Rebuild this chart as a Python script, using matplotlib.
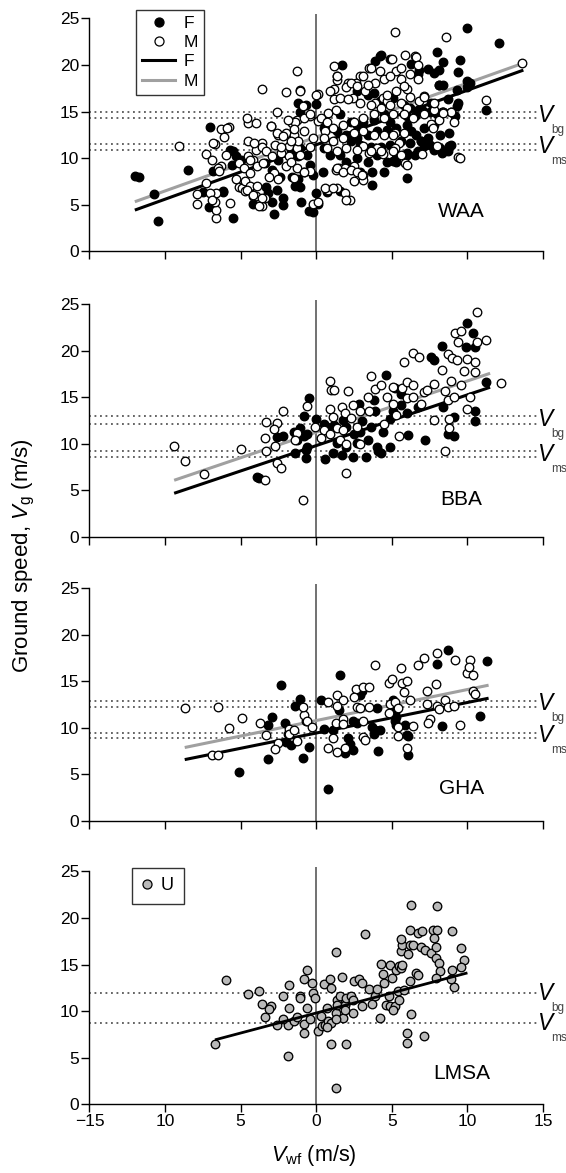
import numpy as np
import matplotlib
matplotlib.use("Agg")
import matplotlib.pyplot as plt
from matplotlib.lines import Line2D

plt.rcParams['font.family'] = ['Liberation Sans', 'DejaVu Sans']
plt.rcParams['mathtext.fontset'] = 'custom'
plt.rcParams['mathtext.rm'] = 'Liberation Sans'
plt.rcParams['mathtext.it'] = 'Liberation Sans:italic'

# ---- data: (wind component, ground speed) in m/s ----
waa_f = np.array([
    (-12.0, 8.1), (-11.7, 8.0), (-10.7, 6.1), (-10.5, 3.2), (-8.5, 8.7), (-7.0, 13.3),
    (-6.8, 8.6), (-6.2, 6.3), (-7.1, 4.7), (-7.5, 6.3), (-5.5, 3.5), (-5.6, 9.2),
    (-4.2, 5.1), (-2.8, 4.0), (-3.3, 6.9), (-2.6, 6.6), (-2.2, 5.7), (-2.2, 5.0),
    (-1.6, 8.0), (-1.1, 6.9), (-1.2, 15.9), (-1.1, 14.9), (-0.5, 4.3), (0.0, 15.8),
    (0.0, 6.2), (0.1, 5.1), (0.45, 8.5), (0.7, 6.3), (1.7, 20.0), (1.4, 18.8),
    (3.7, 8.5), (4.5, 8.5), (4.3, 21.1), (3.9, 20.4), (5.1, 9.7), (6.0, 7.8),
    (6.3, 20.1), (6.8, 19.5), (7.4, 19.6), (8.0, 21.4), (8.1, 19.5), (8.4, 20.3),
    (8.1, 17.8), (8.4, 17.8), (9.5, 20.5), (9.4, 19.2), (10.0, 24.0), (10.0, 18.3),
    (10.0, 17.6), (12.1, 22.4), (11.2, 15.2), (9.4, 15.9), (9.2, 14.5), (8.7, 16.3),
    (8.3, 15.0), (8.8, 12.7), (8.2, 12.5), (8.8, 11.3), (8.3, 10.5), (7.4, 12.2),
    (6.9, 11.8), (7.1, 11.3), (6.5, 10.3), (6.0, 10.5), (6.3, 12.9), (6.0, 14.5),
    (7.6, 15.9), (7.0, 15.2), (6.5, 14.5), (4.2, 21.0), (4.9, 20.6), (6.7, 19.0),
    (7.8, 19.1), (8.1, 17.9), (9.3, 17.3), (10.2, 18.1), (-0.7, 15.7), (2.7, 17.2),
    (3.4, 16.8), (3.8, 17.0), (4.2, 16.1), (5.1, 16.5), (5.8, 15.7), (6.2, 15.4),
    (6.7, 15.2), (7.1, 15.0), (7.5, 15.0), (8.0, 14.7), (8.4, 15.0), (8.9, 15.0),
    (9.3, 15.6), (1.6, 14.7), (2.3, 13.9), (2.7, 13.6), (3.1, 13.9), (3.8, 14.1),
    (4.5, 14.7), (4.9, 13.9), (0.5, 13.2), (1.4, 12.9), (2.0, 12.5), (2.7, 12.1),
    (3.4, 12.5), (4.0, 12.9), (4.7, 13.0), (5.3, 13.2), (6.0, 13.6), (2.3, 11.8),
    (2.9, 11.4), (3.6, 11.2), (4.3, 11.2), (4.9, 11.4), (5.6, 11.8), (6.2, 11.6),
    (6.9, 11.8), (7.5, 11.4), (8.2, 11.1), (8.9, 11.4), (0.5, 11.1), (0.9, 10.3),
    (1.6, 10.3), (2.0, 9.6), (2.7, 10.0), (3.4, 9.6), (4.0, 10.3), (4.7, 9.6),
    (5.3, 10.0), (6.0, 10.3), (6.7, 10.7), (7.1, 11.6), (7.8, 10.9), (8.7, 10.7),
    (-1.1, 11.1), (-0.6, 10.3), (-0.4, 9.3), (-0.8, 8.5), (-0.2, 8.2), (-1.3, 7.1),
    (-1.0, 5.3), (-0.2, 4.2), (1.6, 6.4), (2.9, 8.5), (6.6, 12.5), (7.1, 13.2),
    (7.8, 13.6), (3.7, 7.1), (5.3, 9.6), (-5.5, 10.7), (-5.3, 10.2), (-5.0, 9.8),
    (-3.4, 9.5), (-2.9, 8.7), (-2.4, 8.0), (-5.7, 10.9), (-2.5, 9.8), (-1.7, 10.9),
    (-1.2, 10.2), (-1.2, 7.7), (-1.4, 7.0), (-6.2, 6.4), (-3.2, 6.2), (-2.9, 5.3),
])

waa_m = np.array([
    (-9.1, 11.3), (-7.9, 5.1), (-7.9, 6.1), (-7.3, 7.3), (-7.3, 10.4), (-6.7, 11.5),
    (-6.3, 13.1), (-5.8, 13.3), (-6.1, 12.3), (-6.6, 3.5), (-6.6, 4.4), (-6.7, 5.3),
    (-6.6, 6.2), (-6.3, 9.1), (-6.0, 10.3), (-5.7, 5.2), (-5.1, 6.9), (-4.9, 6.8),
    (-4.7, 6.4), (-4.4, 6.9), (-4.2, 5.9), (-4.0, 5.9), (-3.6, 4.8), (-3.4, 5.7),
    (-4.5, 10.2), (-4.2, 9.8), (-5.1, 9.5), (-4.8, 8.9), (-4.4, 8.4), (-4.0, 10.9),
    (-3.6, 11.6), (-4.5, 13.8), (-4.0, 13.8), (-3.6, 17.4), (-2.0, 17.1), (-1.3, 19.4),
    (-1.1, 17.3), (-2.6, 14.9), (-3.0, 13.4), (-2.5, 12.5), (-2.0, 12.7), (-1.8, 11.3),
    (-1.6, 13.8), (-1.3, 14.1), (-0.9, 15.6), (-2.8, 8.4), (-3.1, 8.0), (-2.5, 7.7),
    (-2.0, 9.1), (-1.8, 10.2), (-2.3, 10.5), (-0.4, 8.6), (-0.2, 5.1), (0.1, 5.3),
    (0.1, 16.9), (-0.4, 14.5), (0.1, 14.0), (0.6, 12.9), (0.8, 14.8), (1.3, 15.2),
    (1.2, 16.3), (1.2, 17.4), (1.4, 18.4), (1.2, 19.9), (0.8, 6.6), (1.4, 6.8),
    (1.3, 8.7), (1.5, 8.9), (1.9, 8.9), (1.9, 6.2), (2.2, 5.5), (2.5, 9.1),
    (3.1, 8.2), (3.1, 7.6), (5.2, 23.5), (8.6, 23.0), (5.0, 20.6), (5.3, 19.4),
    (5.6, 18.5), (5.9, 21.1), (6.5, 21.0), (6.7, 18.5), (6.0, 17.4), (4.2, 19.4),
    (3.5, 19.7), (2.9, 18.8), (2.6, 18.1), (2.1, 18.1), (2.0, 17.6), (2.4, 16.5),
    (3.2, 17.2), (3.9, 18.1), (4.5, 18.5), (4.4, 16.5), (3.9, 15.9), (4.7, 16.1),
    (7.1, 16.7), (6.8, 16.1), (7.8, 15.2), (8.1, 14.1), (8.4, 14.9), (8.9, 15.0),
    (7.6, 13.7), (8.0, 11.3), (7.0, 10.4), (9.4, 10.1), (11.2, 16.2), (13.6, 20.2),
    (5.2, 12.7), (5.5, 11.6), (5.2, 11.1), (4.4, 10.4), (4.0, 11.1), (3.5, 10.5),
    (3.1, 11.3), (2.7, 10.9), (5.9, 9.5), (1.4, 18.8), (3.1, 18.8), (3.6, 19.7),
    (4.9, 18.8), (6.6, 20.9), (6.7, 20.0), (6.2, 19.0), (5.6, 19.7), (2.3, 18.1),
    (2.7, 17.7), (3.4, 17.9), (4.7, 16.8), (5.3, 17.2), (5.8, 17.7), (6.2, 16.6),
    (7.1, 16.6), (7.8, 15.9), (-1.1, 17.2), (0.0, 16.8), (0.9, 17.2), (1.6, 16.5),
    (2.1, 16.3), (2.9, 15.9), (3.6, 15.7), (4.3, 15.4), (4.9, 15.7), (5.6, 15.9),
    (6.0, 15.4), (-1.4, 13.9), (-0.8, 14.3), (-0.4, 14.7), (0.3, 14.3), (0.7, 13.9),
    (1.1, 13.2), (1.8, 13.6), (2.5, 13.9), (3.1, 14.3), (3.8, 14.7), (4.5, 14.3),
    (5.1, 14.7), (5.8, 14.7), (6.4, 14.3), (7.1, 14.7), (-1.5, 12.5), (-0.8, 12.9),
    (-0.2, 12.1), (0.5, 12.1), (1.1, 11.8), (1.8, 12.1), (2.5, 12.7), (3.1, 12.9),
    (3.8, 12.5), (4.5, 12.5), (5.1, 12.5), (5.8, 12.7), (-1.3, 11.1), (-0.4, 11.2),
    (0.7, 11.1), (1.4, 10.7), (2.0, 11.1), (3.6, 10.7), (4.3, 10.7), (5.1, 10.7),
    (5.6, 10.3), (7.7, 13.2), (8.4, 14.8), (9.1, 13.9), (1.4, 8.9), (1.8, 8.5),
    (2.3, 8.7), (2.7, 8.5), (2.5, 7.5), (3.0, 8.2), (6.0, 9.3), (0.6, 6.8),
    (1.1, 6.8), (2.0, 5.5), (-1.7, 9.6), (-1.3, 8.9), (-0.8, 8.5), (-1.5, 7.8),
    (-1.1, 10.3), (-1.2, 11.8), (-5.9, 13.2), (-6.8, 11.6), (-6.9, 9.8), (-6.5, 8.9),
    (-6.4, 8.6), (-7.0, 6.2), (-6.9, 5.5), (-4.6, 14.3), (-4.5, 11.8), (-4.1, 11.6),
    (-3.6, 11.2), (-3.3, 10.7), (-2.9, 10.2), (-2.7, 11.4), (-2.3, 11.2), (-1.7, 11.8),
    (-4.4, 9.8), (-3.9, 9.1), (-3.5, 9.5), (-5.3, 7.7), (-4.7, 7.5), (-4.4, 7.0),
    (-3.9, 7.0), (-4.6, 6.6), (-3.6, 5.7), (-3.8, 4.8), (-3.0, 13.4), (-2.6, 12.7),
    (-1.9, 14.1), (-1.5, 13.1), (-2.2, 12.4), (-4.2, 6.0), (9.5, 10.0),
])

bba_f = np.array([
    (-3.9, 6.5), (-3.8, 6.3), (-2.6, 10.8), (-2.2, 10.9), (-1.5, 11.3), (-1.3, 10.4),
    (-0.8, 10.9), (-0.6, 11.1), (-1.1, 11.7), (-1.4, 9.0), (-0.7, 9.3), (-0.7, 8.5),
    (-0.6, 9.7), (-0.8, 13.0), (-0.5, 14.9), (0.0, 12.7), (0.5, 12.2), (0.7, 11.8),
    (0.6, 8.4), (1.1, 9.0), (1.7, 8.8), (2.4, 8.6), (3.3, 8.6), (4.1, 9.2),
    (4.3, 9.0), (4.9, 9.7), (1.4, 10.1), (2.0, 9.7), (2.7, 10.1), (3.4, 10.4),
    (4.0, 9.7), (2.5, 11.1), (2.9, 11.3), (3.6, 11.8), (2.0, 11.8), (1.8, 12.6),
    (2.8, 14.3), (3.9, 13.6), (4.6, 17.4), (5.2, 16.0), (5.6, 14.2), (6.0, 13.3),
    (5.1, 13.6), (4.9, 12.7), (6.1, 11.0), (7.2, 10.4), (6.7, 14.0), (5.6, 15.4),
    (3.8, 14.7), (7.6, 19.3), (7.8, 19.0), (8.3, 20.5), (8.4, 14.0), (9.1, 10.9),
    (9.1, 12.9), (10.0, 23.0), (10.4, 21.9), (9.9, 20.4), (10.5, 20.4), (10.5, 13.6),
    (10.5, 12.5), (11.2, 16.7), (8.7, 11.1), (1.2, 12.0), (3.0, 12.5), (4.4, 11.3),
])

bba_m = np.array([
    (-9.4, 9.8), (-8.7, 8.2), (-7.4, 6.8), (-5.0, 9.5), (-3.4, 10.6), (-2.7, 9.8),
    (-3.3, 9.2), (-3.3, 12.4), (-2.6, 12.3), (-2.8, 11.6), (-2.2, 13.6), (-2.6, 8.0),
    (-2.3, 7.4), (-3.4, 6.1), (-1.3, 11.2), (-1.4, 10.4), (-0.6, 14.1), (-0.9, 4.0),
    (-0.1, 11.8), (0.9, 16.8), (1.0, 15.8), (1.2, 15.8), (2.1, 15.7), (0.9, 13.8),
    (1.1, 12.9), (1.7, 14.0), (1.9, 13.3), (2.4, 14.2), (2.9, 13.6), (3.5, 13.6),
    (0.5, 11.5), (0.9, 11.1), (1.4, 11.7), (1.8, 11.5), (1.6, 10.4), (2.0, 10.0),
    (2.7, 11.8), (2.9, 10.0), (2.0, 6.9), (3.4, 15.1), (3.9, 15.9), (4.3, 16.3),
    (3.6, 17.3), (4.7, 15.1), (5.1, 16.1), (5.7, 16.0), (6.0, 16.7), (6.4, 16.3),
    (6.0, 14.9), (5.1, 14.3), (5.3, 13.1), (6.4, 15.1), (6.9, 14.3), (7.1, 15.6),
    (7.3, 15.8), (7.8, 16.5), (5.8, 18.8), (6.4, 19.8), (6.8, 19.4), (5.5, 10.9),
    (7.8, 12.6), (8.3, 18.0), (8.5, 15.7), (8.7, 14.7), (8.9, 16.8), (9.1, 15.1),
    (8.8, 11.7), (8.5, 9.2), (8.7, 19.7), (9.0, 19.2), (9.3, 19.0), (9.8, 17.9),
    (10.0, 19.1), (10.5, 17.7), (9.2, 21.9), (9.6, 22.1), (9.4, 21.0), (10.6, 21.0),
    (11.2, 21.2), (10.6, 24.2), (9.6, 16.3), (10.2, 15.1), (10.0, 13.8), (8.8, 12.7),
    (12.2, 16.6), (10.5, 18.8), (4.5, 12.2), (0.3, 10.6), (2.3, 12.8),
])

gha_f = np.array([
    (-5.1, 5.3), (-3.2, 6.7), (-2.3, 14.6), (-2.9, 11.2), (-3.2, 10.3), (-2.1, 10.5),
    (-1.9, 9.4), (-1.7, 8.2), (-2.0, 8.5), (-1.1, 13.1), (-1.4, 12.4), (-0.9, 6.8),
    (-0.5, 8.0), (-0.7, 10.8), (0.3, 13.0), (0.5, 9.9), (1.1, 9.8), (1.6, 15.7),
    (0.8, 3.4), (1.5, 11.9), (2.4, 10.7), (2.7, 10.5), (2.1, 8.9), (2.2, 8.3),
    (2.4, 7.6), (1.9, 7.3), (2.9, 13.5), (3.0, 14.0), (3.7, 10.1), (3.9, 9.8),
    (4.2, 9.8), (3.8, 9.4), (4.0, 12.1), (4.1, 7.5), (5.1, 13.0), (5.3, 11.9),
    (5.2, 10.8), (5.9, 10.3), (6.0, 9.2), (6.1, 7.1), (8.0, 16.9), (8.7, 18.4),
    (8.3, 10.2), (10.8, 11.3), (11.3, 17.2), (5.3, 11.2), (6.1, 9.1), (5.3, 10.3),
])

gha_m = np.array([
    (-8.7, 12.1), (-6.5, 12.3), (-5.8, 10.0), (-4.9, 11.1), (-6.9, 7.1), (-6.5, 7.1),
    (-3.7, 10.5), (-3.3, 9.2), (-2.5, 8.4), (-2.7, 7.7), (-1.8, 9.9), (-1.8, 9.4),
    (-1.5, 9.8), (-1.3, 8.6), (-0.8, 11.4), (-0.6, 10.8), (-0.9, 12.3), (-0.3, 10.1),
    (0.8, 12.8), (1.4, 13.5), (1.8, 13.0), (1.4, 12.4), (0.8, 7.8), (1.1, 8.9),
    (1.4, 7.4), (1.9, 7.8), (1.3, 10.5), (1.8, 11.0), (1.8, 10.4), (2.6, 14.2),
    (3.1, 14.4), (3.5, 14.4), (2.5, 13.3), (2.7, 12.3), (2.9, 12.1), (3.1, 10.7),
    (3.1, 9.0), (3.2, 8.7), (3.5, 12.3), (3.9, 16.8), (4.8, 14.8), (5.0, 15.3),
    (5.6, 16.4), (5.7, 14.8), (6.0, 15.1), (5.8, 13.9), (4.9, 12.6), (5.2, 12.8),
    (5.4, 12.1), (4.8, 11.6), (5.4, 10.1), (5.4, 9.1), (6.0, 7.8), (6.4, 10.2),
    (6.2, 13.0), (6.7, 16.8), (7.1, 17.5), (8.0, 18.1), (7.3, 14.0), (7.9, 14.7),
    (7.5, 11.0), (7.4, 10.5), (7.3, 12.6), (8.0, 12.4), (8.1, 12.0), (8.5, 13.0),
    (8.7, 12.3), (9.1, 12.4), (9.5, 10.3), (9.2, 17.3), (10.0, 15.9), (10.2, 17.3),
    (10.4, 15.7), (10.1, 16.6), (10.4, 14.0), (10.5, 13.6),
])

lmsa_u = np.array([
    (-6.7, 6.4), (-6.0, 13.3), (-4.5, 11.8), (-3.8, 12.2), (-3.6, 10.8), (-3.4, 9.4),
    (-3.0, 10.5), (-3.1, 10.2), (-2.6, 8.5), (-2.2, 11.6), (-1.9, 8.5), (-1.8, 12.8),
    (-1.8, 10.3), (-1.9, 5.2), (-2.2, 9.1), (-1.5, 8.9), (-1.3, 9.4), (-1.1, 11.6),
    (-1.1, 11.4), (-0.8, 7.6), (-0.8, 8.6), (-0.6, 10.3), (-0.6, 14.4), (-0.4, 9.1),
    (-0.2, 11.9), (-0.3, 13.0), (-0.1, 11.4), (-0.8, 13.4), (0.1, 7.8), (0.4, 8.4),
    (0.6, 8.5), (0.7, 10.3), (0.8, 8.9), (0.5, 12.9), (0.9, 13.4), (1.0, 12.5),
    (1.3, 16.3), (1.4, 11.2), (1.3, 9.8), (1.4, 10.7), (1.6, 11.6), (1.7, 13.7),
    (1.8, 9.2), (1.9, 10.7), (2.0, 11.4), (1.0, 6.5), (2.0, 6.4), (1.3, 1.7),
    (2.3, 11.6), (2.5, 13.2), (2.8, 13.4), (2.4, 9.8), (3.0, 13.0), (3.0, 10.5),
    (3.5, 12.4), (3.7, 10.8), (3.9, 11.6), (4.0, 12.4), (4.2, 9.2), (4.4, 14.0),
    (4.5, 13.0), (4.6, 10.7), (4.8, 11.6), (4.9, 15.0), (4.9, 10.5), (5.0, 13.5),
    (5.2, 10.5), (5.3, 14.4), (5.5, 14.8), (5.5, 11.2), (5.6, 14.6), (5.7, 15.0),
    (5.4, 12.1), (3.2, 18.3), (4.3, 15.1), (5.1, 10.1), (5.8, 12.3), (5.6, 16.4),
    (5.7, 17.1), (5.6, 17.7), (6.1, 16.1), (6.2, 17.1), (6.4, 17.1), (6.9, 16.9),
    (7.2, 16.6), (7.6, 16.2), (7.9, 16.9), (7.9, 15.7), (8.1, 15.2), (8.2, 14.3),
    (6.2, 18.7), (6.7, 18.4), (7.0, 18.6), (7.7, 18.7), (8.0, 18.7), (7.8, 17.9),
    (6.3, 21.4), (8.0, 21.3), (9.0, 18.6), (9.6, 16.8), (9.8, 15.5), (9.6, 14.7),
    (9.0, 14.4), (9.1, 12.6), (8.9, 13.4), (7.9, 13.5), (6.6, 14.1), (6.7, 13.9),
    (6.2, 13.2), (6.3, 9.7), (6.0, 7.6), (6.0, 6.6), (7.1, 7.3), (1.0, 8.7),
    (0.7, 8.3), (0.3, 9.5), (1.3, 9.1), (1.9, 10.1), (2.4, 11.2),
])

# regression fits: x range and fitted ground speed at the ends
waa_fit_x = [-12.0, 13.7]
waa_fit_f = [4.4, 19.45]
waa_fit_m = [5.3, 20.2]
bba_fit_x = [-9.4, 11.5]
bba_fit_f = [4.7, 16.1]
bba_fit_m = [6.1, 17.6]
gha_fit_x = [-8.7, 11.4]
gha_fit_f = [6.6, 13.2]
gha_fit_m = [7.9, 14.6]
lmsa_fit_x = [-6.7, 10.0]
lmsa_fit_u = [6.9, 14.1]

# best-glide (Vbg) and minimum-sink (Vms) airspeeds, F and M values
waa_vbg = [14.3, 14.9]
waa_vms = [10.9, 11.5]
bba_vbg = [12.2, 13.0]
bba_vms = [8.6, 9.2]
gha_vbg = [12.3, 12.9]
gha_vms = [8.9, 9.5]
lmsa_vbg = [11.9]
lmsa_vms = [8.7]

site_names = ['WAA', 'BBA', 'GHA', 'LMSA']
label_y = [3.2, 3.0, 2.5, 2.3]
x_ticks = [-15, -10, -5, 0, 5, 10, 15]
x_tick_labels = ['\u221215', '10', '5', '0', '5', '10', '15']
y_ticks = [0, 5, 10, 15, 20, 25]

GREY_LINE = '#a0a0a0'
GREY_FILL = '#b9b9b9'
DOT_COLOR = '#3a3a3a'
MARKER_AREA = 38

fig = plt.figure(figsize=(5.66, 11.73), dpi=100)
left, width, height = 0.1581, 0.8013, 0.2022
bottoms = [0.7860, 0.5422, 0.3001, 0.0588]
axes = [fig.add_axes([left, b, width, height]) for b in bottoms]

panels = [
    dict(f=waa_f, m=waa_m, fx=waa_fit_x, ff=waa_fit_f, fm=waa_fit_m, vbg=waa_vbg, vms=waa_vms),
    dict(f=bba_f, m=bba_m, fx=bba_fit_x, ff=bba_fit_f, fm=bba_fit_m, vbg=bba_vbg, vms=bba_vms),
    dict(f=gha_f, m=gha_m, fx=gha_fit_x, ff=gha_fit_f, fm=gha_fit_m, vbg=gha_vbg, vms=gha_vms),
    dict(u=lmsa_u, fx=lmsa_fit_x, fu=lmsa_fit_u, vbg=lmsa_vbg, vms=lmsa_vms),
]

for i, (ax, p) in enumerate(zip(axes, panels)):
    ax.set_xlim(-15, 15)
    ax.set_ylim(0, 25.5)
    for side in ('top', 'right'):
        ax.spines[side].set_visible(False)
    ax.spines['left'].set_bounds(0, 25)
    for side in ('left', 'bottom'):
        ax.spines[side].set_linewidth(1.0)
    ax.set_xticks(x_ticks)
    ax.set_yticks(y_ticks)
    ax.tick_params(direction='out', length=5.5, width=1.0, labelsize=12.5, pad=2)
    if i == 3:
        ax.set_xticklabels(x_tick_labels)
    else:
        ax.set_xticklabels([])

    ax.axvline(0, color='#4a4a4a', lw=1.1, zorder=1)

    # Vbg / Vms reference lines
    for ys, name in ((p['vbg'], 'bg'), (p['vms'], 'ms')):
        ax.hlines(ys, -15, 14.6, colors=DOT_COLOR, linestyles=(0, (1.2, 2.4)), lw=1.1, zorder=1)
        ymid = np.mean(ys)
        ax.text(14.6, ymid, 'V', fontsize=16.5, style='italic', ha='left', va='center', clip_on=False)
        ax.annotate(name, xy=(14.6, ymid), xytext=(10.5, -10.5), textcoords='offset points',
                    fontsize=8.5, color='#444444', ha='left', va='center', annotation_clip=False)

    if 'u' in p:
        ax.scatter(p['u'][:, 0], p['u'][:, 1], s=MARKER_AREA, facecolor=GREY_FILL, edgecolor='black',
                   linewidth=0.95, zorder=3)
        ax.plot(p['fx'], p['fu'], color='black', lw=2.0, solid_capstyle='butt', zorder=4)
    else:
        ax.plot(p['fx'], p['fm'], color=GREY_LINE, lw=2.2, solid_capstyle='butt', zorder=2)
        ax.plot(p['fx'], p['ff'], color='black', lw=2.2, solid_capstyle='butt', zorder=2)
        ax.scatter(p['f'][:, 0], p['f'][:, 1], s=MARKER_AREA, facecolor='black', edgecolor='black',
                   linewidth=0.95, zorder=3)
        ax.scatter(p['m'][:, 0], p['m'][:, 1], s=MARKER_AREA, facecolor='white', edgecolor='black',
                   linewidth=0.95, zorder=3)

    ax.text(9.6, label_y[i], site_names[i], fontsize=15, ha='center', va='bottom')

# legends
h_sex = [
    Line2D([], [], marker='o', ls='none', ms=6.5, mfc='black', mec='black', mew=0.9),
    Line2D([], [], marker='o', ls='none', ms=6.5, mfc='white', mec='black', mew=0.9),
    Line2D([], [], color='black', lw=2.2),
    Line2D([], [], color=GREY_LINE, lw=2.2),
]
leg = axes[0].legend(h_sex, ['F', 'M', 'F', 'M'], loc='upper left', bbox_to_anchor=(0.1025, 1.018),
                     fontsize=12.5, frameon=True, fancybox=False, edgecolor='black',
                     handlelength=1.9, handletextpad=0.5, labelspacing=0.24, borderpad=0.35,
                     borderaxespad=0, markerfirst=True)
leg.get_frame().set_linewidth(1.0)

h_u = [Line2D([], [], marker='o', ls='none', ms=6.5, mfc=GREY_FILL, mec='black', mew=0.9)]
leg2 = axes[3].legend(h_u, ['U'], loc='upper left', bbox_to_anchor=(0.094, 0.997),
                      fontsize=13, frameon=True, fancybox=False, edgecolor='black',
                      handlelength=0.6, handletextpad=0.45, borderpad=0.55, borderaxespad=0)
leg2.get_frame().set_linewidth(1.0)

fig.text(0.042, 0.526, 'Ground speed, $\\mathit{V}_{\\mathregular{g}}$ (m/s)', rotation=90,
         fontsize=16, ha='center', va='center')
fig.text(0.555, 0.0145, '$\\mathit{V}_{\\mathregular{wf}}$ (m/s)', fontsize=15.5, ha='center', va='center')

fig.savefig('out.png', dpi=100)
